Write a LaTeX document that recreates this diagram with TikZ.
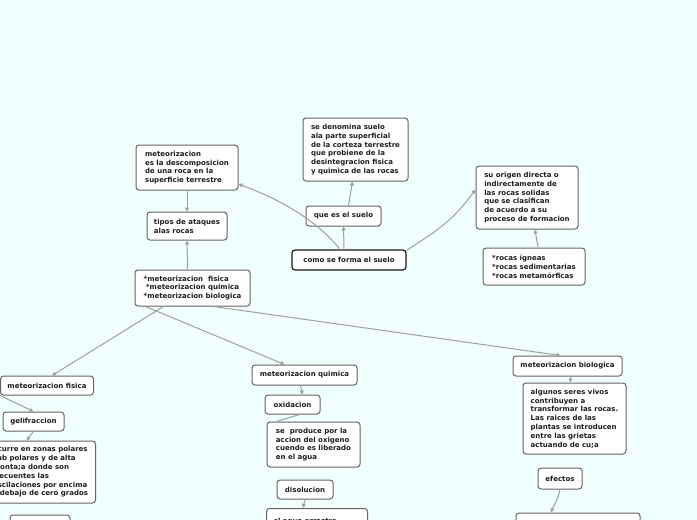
\documentclass[tikz,border=0pt]{standalone}
\usepackage{fontspec}
\setmainfont{DejaVu Sans}
\usetikzlibrary{arrows.meta}
\definecolor{bg}{RGB}{240,254,254}
\definecolor{bord}{RGB}{100,100,100}
\definecolor{txt}{RGB}{30,30,30}
\definecolor{lnk}{RGB}{160,160,160}
\newcommand{\fsz}{\fontsize{7}{8.8}\selectfont\bfseries}
\tikzset{
  bx/.style={draw=bord, fill=white, rounded corners=3pt, line width=1pt,
    font=\fsz, text=txt, inner xsep=6pt, inner ysep=0pt, align=left},
  bxc/.style={bx, align=center},
  rootbx/.style={bxc, draw=black!90, line width=1.2pt},
  arr/.style={draw=lnk, line width=1pt, -{Triangle[length=4pt,width=4pt]}},
  lnkline/.style={draw=lnk, line width=1pt}
}
\begin{document}
\begin{tikzpicture}[x=1pt,y=-1pt]
\useasboundingbox (0,0) rectangle (697,520);
\fill[bg] (0,0) rectangle (697,520);
\clip (0,0) rectangle (697,520);

% nodes
\node[rootbx, minimum width=114pt, minimum height=20pt] (como) at (349,260) {como se forma el suelo};
\node[bxc, minimum width=75pt, minimum height=20pt] (que) at (343.5,216) {que es el suelo};
\node[bx, minimum width=105pt, minimum height=63pt] (seden) at (355.5,149.5) {se denomina suelo\\ala parte superficial\\de la corteza terrestre\\que probiene de la\\desintegracion fisica\\y quimica de las rocas};
\node[bx, minimum width=102pt, minimum height=45pt] (meteo) at (187,167.5) {meteorizacion\\es la descomposicion\\de una roca en la\\superficie terrestre};
\node[bx, minimum width=80pt, minimum height=28pt] (tipos) at (187,226) {tipos de ataques\\alas rocas};
\node[bx, minimum width=115pt, minimum height=36pt] (tres) at (192.5,288) {*meteorizacion\ \ fisica\\\ *meteorizacion quimica\\{}*meteorizacion biologica};
\node[bx, minimum width=102pt, minimum height=63pt] (origen) at (527,197.5) {su origen directa o\\indirectamente de\\las rocas solidas\\que se clasifican\\de acuerdo a su\\proceso de formacion};
\node[bx, minimum width=102pt, minimum height=37pt] (rocas) at (534,266.5) {*rocas ígneas\\{}*rocas sedimentarias\\{}*rocas metamórficas};

\node[bxc, minimum width=93pt, minimum height=19pt] (mfis) at (47,385.5) {meteorizacion fisica};
\node[bx, minimum width=61pt, minimum height=19pt] (geli) at (33.5,421.5) {gelifraccion};
\node[bx, minimum width=110pt, minimum height=62pt, anchor=east] (curre) at (96,472) {ocurre en zonas polares\\sub polares y de alta\\monta;a donde son\\frecuentes las\\oscilaciones por encima\\y debajo de cero grados};
\node[bx, minimum width=60pt, minimum height=30pt] (bl) at (40,530) {};

\node[bxc, minimum width=105pt, minimum height=20pt] (mquim) at (304.5,375) {meteorizacion quimica};
\node[bxc, minimum width=55pt, minimum height=19pt] (oxid) at (292.5,404.5) {oxidacion};
\node[bx, minimum width=93pt, minimum height=45pt] (prod) at (313.5,444.5) {se\ \ produce por la\\accion del oxigeno\\cuendo es liberado\\en el agua};
\node[bxc, minimum width=56pt, minimum height=19pt] (disol) at (305,489.5) {disolucion};
\node[bx, text width=87pt, minimum height=44pt, anchor=north west, inner ysep=6pt, inner xsep=7pt] (agua) at (266,508) {el agua arrastra\\\strut\\\strut};

\node[bxc, minimum width=109pt, minimum height=20pt] (mbio) at (567.5,366) {meteorizacion biologica};
\node[bx, minimum width=103pt, minimum height=71pt] (algunos) at (574.5,418.5) {algunos seres vivos\\contribuyen a\\transformar las rocas.\\Las raices de las\\plantas se introducen\\entre las grietas\\actuando de cu;a};
\node[bxc, minimum width=44pt, minimum height=21pt] (efectos) at (560,478.5) {efectos};
\node[bx, minimum width=124pt, minimum height=37pt] (br) at (578,531.5) {};

% connectors
\draw[arr] ([xshift=-5pt]como.north) -- (que.south);
\draw[arr] ([xshift=-9pt]como.north) .. controls (325,230) and (295,205) .. (meteo.east |- 0,184);
\draw[arr] ([xshift=5pt]que.north) -- ([xshift=-3pt]seden.south);
\draw[arr] ([yshift=-1pt]como.north east) .. controls (428,236) and (450,225) .. ([yshift=8pt]origen.west);
\draw[arr] ([xshift=4pt]rocas.north) -- ([xshift=8pt]origen.south);
\draw[arr] (meteo.south) -- (tipos.south |- tipos.north);
\draw[arr] ([xshift=-5pt]tres.north) -- (tipos.south);
\draw[arr] ([xshift=-29pt]tres.south) -- ([xshift=5pt]mfis.north);
\draw[arr] ([xshift=-47pt]tres.south) -- ([xshift=-20pt]mquim.north);
\draw[arr] ([xshift=21pt]tres.south) -- ([xshift=-7pt]mbio.north);
\draw[arr] (mfis.south west) -- (geli.north);
\draw[arr] (geli.south) -- ([xshift=-7pt]curre.north -| geli.south);
\draw[arr] ([xshift=-4pt]mquim.south) -- ([xshift=10pt]oxid.north);
\draw[lnkline] ([xshift=7pt]oxid.south) -- ([xshift=10pt]prod.north west);
\draw[arr] (disol.south) -- ([xshift=-14pt]agua.north);
\draw[arr] ([xshift=3pt]mbio.south) -- ([xshift=-4pt]algunos.north);
\draw[arr] (efectos.south) .. controls (558,500) and (553,507) .. ([xshift=-27pt]br.north);
\end{tikzpicture}
\end{document}
